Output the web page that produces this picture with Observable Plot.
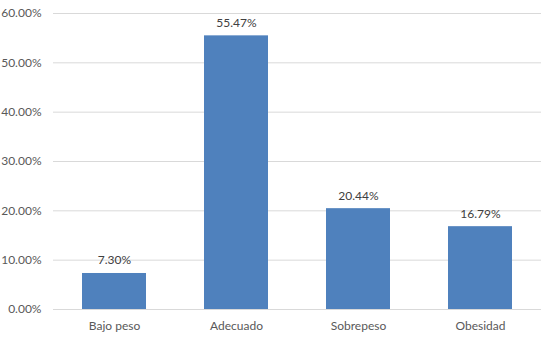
<!DOCTYPE html>
<html>
<head>
<meta charset="utf-8">
<script src="https://cdn.jsdelivr.net/npm/d3@7"></script>
<script src="https://cdn.jsdelivr.net/npm/@observablehq/plot@0.6"></script>
<style>
  html, body { margin: 0; padding: 0; background: #fff; }
  svg { display: block; }
</style>
</head>
<body>
<div id="chart"></div>
<script>
const categories = ["Bajo peso", "Adecuado", "Sobrepeso", "Obesidad"];
const values = [7.30, 55.47, 20.44, 16.79];
const yTicks = [0, 10, 20, 30, 40, 50, 60];

const data = categories.map((c, i) => ({category: c, value: values[i]}));
const fmt = v => v.toFixed(2) + "%";

const chart = Plot.plot({
  width: 545,
  height: 339,
  marginLeft: 53,
  marginRight: 4,
  marginTop: 13,
  marginBottom: 30,
  style: {fontFamily: "Lato, 'Noto Sans', sans-serif", fontSize: "12px", color: "#595959", background: "#fff"},
  x: {domain: categories, paddingInner: 0.475, paddingOuter: 0.2375, label: null},
  y: {domain: [0, 60], label: null},
  marks: [
    Plot.gridY(yTicks, {stroke: "#d9d9d9", strokeOpacity: 1}),
    Plot.axisY(yTicks, {tickSize: 0, tickPadding: 12, tickFormat: fmt, fill: "#595959", fontSize: 12}),
    Plot.axisX({tickSize: 0, tickPadding: 12, fill: "#595959", fontSize: 12}),
    Plot.barY(data, {x: "category", y: "value", fill: "#4f81bd"}),
    Plot.text(data, {x: "category", y: "value", text: d => fmt(d.value), dy: -9, lineAnchor: "bottom", fill: "#404040", fontSize: 12})
  ]
});
document.getElementById("chart").append(chart);
</script>
</body>
</html>
